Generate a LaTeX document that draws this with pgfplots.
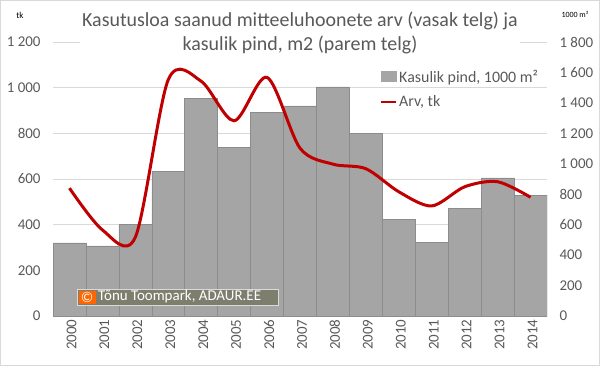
\documentclass[border=0pt]{standalone}
\usepackage{pgfplots}
\pgfplotsset{compat=1.18}
\usepackage{fontspec}
\setmainfont{Carlito}
\definecolor{txt}{HTML}{595959}
\definecolor{barfill}{HTML}{A5A5A5}
\definecolor{baredge}{HTML}{8C8C8C}
\definecolor{linered}{HTML}{C00000}
\definecolor{gridc}{HTML}{D9D9D9}
\definecolor{wmfill}{HTML}{7E7E6E}
\definecolor{wmorange}{HTML}{FF6600}
\newcommand{\tf}{\fontsize{15}{18}\selectfont}
\pgfplotsset{
  base/.style={
    at={(53bp,50bp)}, anchor=south west,
    scale only axis, width=494bp, height=274bp,
    xmin=-0.5, xmax=14.5, ymin=0,
    axis line style={draw=none},
    major tick length=0pt,
    /pgf/number format/assume math mode=true,
    /pgf/number format/1000 sep={\ },
    tick label style={font=\tf, text=txt},
  }
}
\begin{document}
\begin{tikzpicture}[x=1bp,y=1bp]
\path[use as bounding box] (0,0) rectangle (600,366);
\draw[gridc] (0.5,0.5) rectangle (599.5,365.5);
% bars + grid
\begin{axis}[base, ymax=1800,
  ytick={0,300,...,1800}, yticklabels={},
  ymajorgrids, grid style={gridc, line width=0.8bp},
  xtick={0,...,14},
  xticklabels={2000,2001,2002,2003,2004,2005,2006,2007,2008,2009,2010,2011,2012,2013,2014},
  xticklabel style={rotate=90, anchor=east, yshift=-2bp},
  ybar, bar width=1]
\addplot[fill=barfill, draw=baredge, line width=0.6bp] coordinates {
(0,480) (1,460) (2,600) (3,950) (4,1430) (5,1110) (6,1340) (7,1380)
(8,1505) (9,1200) (10,632) (11,484) (12,707) (13,907) (14,793)};
\end{axis}
% right axis labels
\begin{axis}[base, ymax=1800, ytick={0,200,...,1800},
  axis y line*=right, axis x line=none,
  yticklabel style={anchor=west, xshift=9bp}]
\end{axis}
% left axis + line
\begin{axis}[base, ymax=1200, ytick={0,200,...,1200},
  axis y line*=left, axis x line=none,
  yticklabel style={anchor=east, xshift=-9bp},
  legend style={at={(0.662,0.905)}, anchor=north west, draw=none, fill=none,
    font=\fontsize{16}{19}\selectfont, text=txt, inner sep=0pt, row sep=9bp,
    nodes={inner sep=1.5bp}},
  legend cell align=left]
\addlegendimage{legend image code/.code={\fill[barfill] (0bp,-5bp) rectangle (15bp,5bp);}}
\addlegendentry{Kasulik pind, 1000 m²}
\addplot[linered, line width=3bp, smooth, tension=0.5,
  legend image code/.code={\draw[linered, line width=2.5bp] (0bp,0bp) -- (15bp,0bp);}]
  coordinates {
(0,560) (1,377) (2,345) (3,1035) (4,1028) (5,855) (6,1045) (7,735)
(8,665) (9,645) (10,544) (11,482) (12,566) (13,588) (14,520)};
\addlegendentry{Arv, tk}
\end{axis}
% title
\node[fill=white, minimum width=440bp, align=center, text=txt,
  font=\fontsize{20}{24}\selectfont, inner sep=2bp] at (300,333)
  {Kasutusloa saanud mitteeluhoonete arv (vasak telg) ja\\kasulik pind, m2 (parem telg)};
\node[font=\fontsize{9}{10}\selectfont, text=black] at (20,351) {tk};
\node[font=\fontsize{8}{9}\selectfont, text=black] at (575,352) {1000 m²};
% watermark
\draw[fill=wmfill, draw=gridc, line width=0.8bp] (77,61) rectangle (278,77);
\fill[wmorange] (78.5,62.5) rectangle (96,75.5);
\node[text=white, font=\tf, inner sep=0pt] at (87.2,69) {©};
\node[text=white, font=\tf, inner sep=0pt, anchor=west] at (98,69) {Tõnu Toompark, ADAUR.EE};
\end{tikzpicture}
\end{document}
